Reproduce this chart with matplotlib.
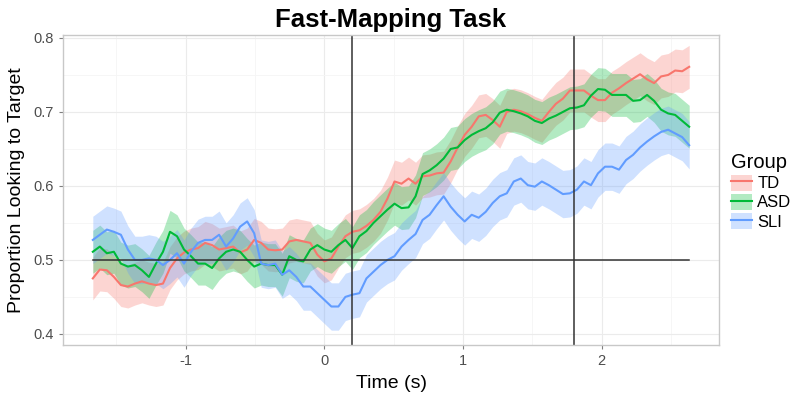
import numpy as np
import matplotlib
matplotlib.use("Agg")
import matplotlib.pyplot as plt
from matplotlib.patches import Patch
from matplotlib.lines import Line2D

plt.rcParams['font.family'] = ['Liberation Sans', 'DejaVu Sans']
plt.rcParams['axes.unicode_minus'] = False

# time axis (s), eye-tracking bins
time = np.linspace(-1.67, 2.63, 86)

groups = ["TD", "ASD", "SLI"]
colors = {"TD": "#F8766D", "ASD": "#00BA38", "SLI": "#619CFF"}

td_mean = [0.475, 0.487, 0.486, 0.477, 0.466, 0.464, 0.468, 0.471, 0.468, 0.466,
           0.468, 0.489, 0.502, 0.510, 0.514, 0.516, 0.523, 0.520, 0.514, 0.516,
           0.518, 0.510, 0.514, 0.527, 0.523, 0.514, 0.513, 0.514, 0.525, 0.527,
           0.525, 0.523, 0.507, 0.498, 0.502, 0.518, 0.532, 0.538,
           0.540, 0.546, 0.554, 0.565, 0.583, 0.606, 0.603, 0.610, 0.603, 0.613,
           0.614, 0.617, 0.618, 0.633, 0.652, 0.669, 0.680, 0.694, 0.696, 0.689,
           0.680, 0.700, 0.703, 0.701, 0.697, 0.692, 0.688, 0.700, 0.711, 0.718,
           0.729, 0.729, 0.729, 0.722, 0.716, 0.716, 0.726, 0.732, 0.739, 0.745,
           0.751, 0.744, 0.739, 0.748, 0.750, 0.756, 0.755, 0.761]

asd_mean = [0.511, 0.518, 0.509, 0.511, 0.495, 0.491, 0.493, 0.486, 0.477, 0.495,
            0.511, 0.538, 0.532, 0.514, 0.505, 0.495, 0.495, 0.489, 0.502, 0.511,
            0.514, 0.511, 0.500, 0.491, 0.495, 0.493, 0.493, 0.480, 0.505, 0.500,
            0.498, 0.514, 0.520, 0.514, 0.511, 0.520, 0.527, 0.516,
            0.532, 0.539, 0.550, 0.559, 0.568, 0.576, 0.570, 0.571, 0.586, 0.616,
            0.621, 0.628, 0.637, 0.650, 0.652, 0.662, 0.669, 0.674, 0.678, 0.686,
            0.699, 0.703, 0.701, 0.698, 0.694, 0.688, 0.685, 0.691, 0.695, 0.700,
            0.705, 0.706, 0.709, 0.722, 0.731, 0.730, 0.723, 0.723, 0.723, 0.715,
            0.716, 0.723, 0.715, 0.703, 0.698, 0.696, 0.688, 0.680]

sli_mean = [0.527, 0.534, 0.541, 0.538, 0.534, 0.514, 0.500, 0.500, 0.502, 0.500,
            0.493, 0.500, 0.509, 0.495, 0.511, 0.523, 0.527, 0.527, 0.534, 0.518,
            0.529, 0.545, 0.552, 0.536, 0.495, 0.493, 0.495, 0.480, 0.486, 0.477,
            0.464, 0.464, 0.455, 0.446, 0.437, 0.437, 0.450, 0.453,
            0.455, 0.475, 0.484, 0.493, 0.500, 0.505, 0.518, 0.527, 0.535, 0.554,
            0.561, 0.574, 0.586, 0.572, 0.561, 0.552, 0.561, 0.557, 0.565, 0.577,
            0.586, 0.590, 0.606, 0.610, 0.601, 0.599, 0.606, 0.601, 0.595, 0.589,
            0.590, 0.595, 0.606, 0.601, 0.617, 0.626, 0.626, 0.622, 0.635, 0.642,
            0.652, 0.660, 0.667, 0.673, 0.676, 0.671, 0.666, 0.655]

# standard error (ribbon half width)
se = {"TD": 0.029, "ASD": 0.029, "SLI": 0.032}
means = {"TD": td_mean, "ASD": asd_mean, "SLI": sli_mean}

window_lines = [0.2, 1.8]
chance = 0.5

fig = plt.figure(figsize=(8, 4.01), dpi=100)
ax = fig.add_axes([0.07875, 0.1397, 0.82, 0.773])

# ggplot-ish grid
ax.set_xticks([-1, 0, 1, 2])
ax.set_xticks([-1.5, -0.5, 0.5, 1.5, 2.5], minor=True)
ax.set_yticks([0.4, 0.5, 0.6, 0.7, 0.8])
ax.set_yticks([0.45, 0.55, 0.65, 0.75], minor=True)
ax.grid(True, which='major', color='#EBEBEB', linewidth=0.8)
ax.grid(True, which='minor', color='#F5F5F5', linewidth=0.6)
ax.set_axisbelow(True)

for g in groups:
    m = np.array(means[g])
    ax.fill_between(time, m - se[g], m + se[g], color=colors[g], alpha=0.3, linewidth=0)
for g in groups:
    ax.plot(time, means[g], color=colors[g], linewidth=1.5)

for x in window_lines:
    ax.axvline(x, color='#333333', linewidth=1.1)
ax.plot([time[0], time[-1]], [chance, chance], color='#333333', linewidth=1.1)

ax.set_xlim(-1.885, 2.845)
ax.set_ylim(0.385, 0.804)
ax.set_yticklabels(["0.4", "0.5", "0.6", "0.7", "0.8"])
ax.set_xticklabels(["-1", "0", "1", "2"])

for s in ax.spines.values():
    s.set_color('#C8C8C8')
    s.set_linewidth(1.0)
ax.tick_params(which='major', length=3, color='#7F7F7F', labelsize=10.5, labelcolor='#4D4D4D')
ax.tick_params(which='minor', length=0)

ax.set_xlabel("Time (s)", fontsize=14, labelpad=5)
ax.set_ylabel("Proportion Looking to Target", fontsize=14, labelpad=6)
ax.set_title("Fast-Mapping Task", fontsize=18.5, fontweight='bold', pad=6)

handles = [(Patch(facecolor=colors[g], alpha=0.3, linewidth=0),
            Line2D([], [], color=colors[g], linewidth=1.5)) for g in groups]
leg = fig.legend(handles, groups, title="Group", loc='upper left',
                 bbox_to_anchor=(0.905, 0.635), frameon=False,
                 fontsize=12, title_fontsize=14.5, handlelength=1.3,
                 handleheight=1.1, labelspacing=0.15, handletextpad=0.3,
                 borderaxespad=0)
leg._legend_box.align = "left"

fig.savefig("out.png", dpi=100)
